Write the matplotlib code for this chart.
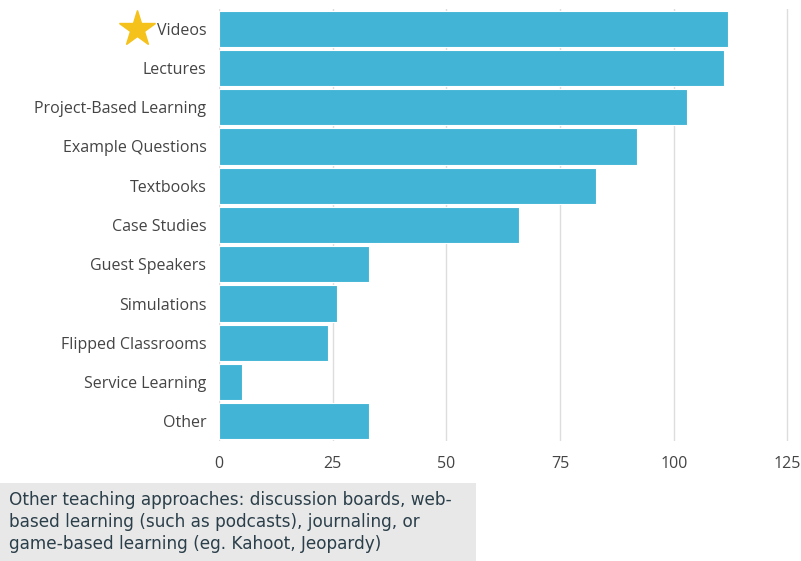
import matplotlib
matplotlib.use('Agg')
import matplotlib.pyplot as plt
from matplotlib.patches import Rectangle

# survey counts per teaching approach
approaches = ['Videos', 'Lectures', 'Project-Based Learning', 'Example Questions',
              'Textbooks', 'Case Studies', 'Guest Speakers', 'Simulations',
              'Flipped Classrooms', 'Service Learning', 'Other']
counts = [112, 111, 103, 92, 83, 66, 33, 26, 24, 5, 33]
xticks = [0, 25, 50, 75, 100, 125]

note = ('Other teaching approaches: discussion boards, web-\n'
        'based learning (such as podcasts), journaling, or\n'
        'game-based learning (eg. Kahoot, Jeopardy)')

bar_color = '#42b4d6'
label_color = '#444444'

fig = plt.figure(figsize=(8.01, 5.61), dpi=100)
ax = fig.add_axes([219/801, 1 - 441/561, (792 - 219)/801, (441 - 9)/561])

ypos = list(range(len(approaches)))
ax.barh(ypos, counts, height=0.92, color=bar_color, edgecolor='white', linewidth=0.8, zorder=2)
ax.set_ylim(len(approaches) - 0.5, -0.5)
ax.set_xlim(0, 126)

ax.set_yticks(ypos)
ax.set_yticklabels(approaches, fontsize=11.5, color=label_color, family='Open Sans')
ax.set_xticks(xticks)
ax.set_xticklabels([str(t) for t in xticks], fontsize=11.5, color=label_color, family='Open Sans')
ax.tick_params(axis='y', length=0, pad=9)
ax.tick_params(axis='x', length=0, pad=11)

ax.grid(axis='x', color='#dddddd', linewidth=1, zorder=0)
for s in ax.spines.values():
    s.set_visible(False)

# star next to the top category
ax.plot([-18], [0], marker='*', markersize=27, color='#f5c21b', clip_on=False, zorder=3)

# footnote box
fig.patches.append(Rectangle((0, 0), 476/801, 78/561, transform=fig.transFigure,
                             facecolor='#e8e8e8', edgecolor='none', zorder=0))
fig.text(9/801, 70/561, note, fontsize=12.2, color='#2b3f4a', va='top', ha='left',
         family='DejaVu Sans', linespacing=1.3)

fig.savefig('out.png', dpi=100)
